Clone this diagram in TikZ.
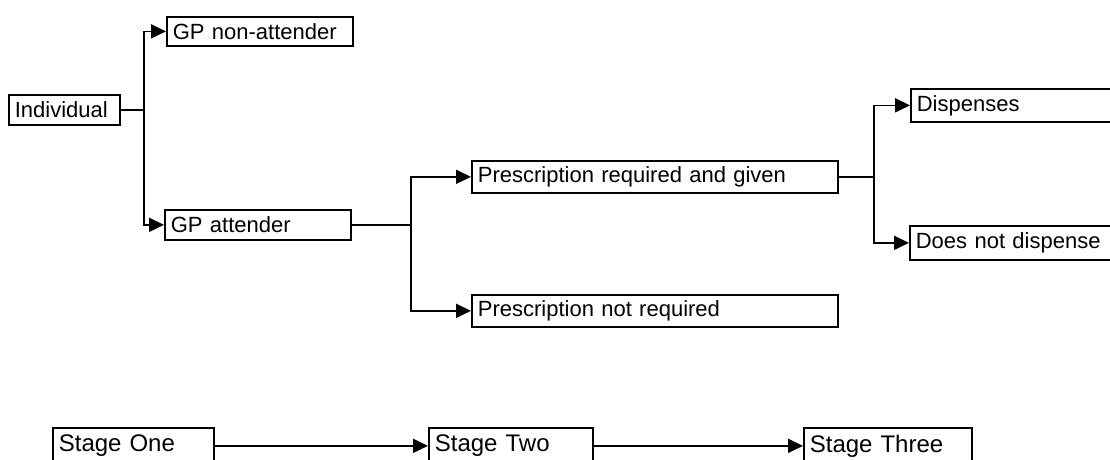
\documentclass[tikz,border=0pt]{standalone}
\usepackage{fontspec}
\setmainfont{Liberation Sans}
\usetikzlibrary{arrows.meta}
\begin{document}
\begin{tikzpicture}[x=1pt,y=-1pt,
  box/.style={draw, line width=1.7pt, rectangle, anchor=north west,
    inner xsep=6pt, inner ysep=0pt, align=left,
    font=\fontsize{22}{26}\selectfont},
  stagebox/.style={box, font=\fontsize{24}{28}\selectfont, minimum height=36},
  link/.style={line width=1.7pt},
  arr/.style={link, -{Triangle[length=15pt,width=14pt]}}]
\useasboundingbox (0,0) rectangle (1110,459);
\clip (0,0) rectangle (1110,459);

% decision tree
\node[box, text width=99,  minimum height=30] (ind)    at (8,94)    {Individual};
\node[box, text width=174, minimum height=29] (nonatt) at (166,16)  {GP non-attender};
\node[box, text width=174, minimum height=30] (att)    at (164,209) {GP attender};
\node[box, text width=354, minimum height=32] (presc)  at (471,160) {Prescription required and given};
\node[box, text width=354, minimum height=32] (notreq) at (471,294) {Prescription not required};
\node[box, text width=208, minimum height=33] (disp)   at (910,88)  {Dispenses};
\node[box, text width=208, minimum height=34] (nodisp) at (909,225) {Does not dispense};

% branch points
\path (ind.east)   ++(23,0) coordinate (j1);
\path (att.east)   ++(59,0) coordinate (j2);
\path (presc.east) ++(35,0) coordinate (j3);

\draw[link] (ind.east) -- (j1);
\draw[arr] (j1) |- (nonatt.west);
\draw[arr] (j1) |- (att.west);

\draw[link] (att.east) -- (j2);
\draw[arr] (j2) |- (presc.west);
\draw[arr] (j2) |- (notreq.west);

\draw[link] (presc.east) -- (j3);
\draw[arr] (j3) |- (disp.west);
\draw[arr] (j3) |- (nodisp.west);

% stages
\node[stagebox, text width=149] (s1) at (52,427)  {Stage One};
\node[stagebox, text width=152] (s2) at (428,427) {Stage Two};
\node[stagebox, text width=156] (s3) at (803,427) {Stage Three};
\draw[arr] (s1.east) -- (s2.west);
\draw[arr] (s2.east) -- (s3.west);
\end{tikzpicture}
\end{document}
